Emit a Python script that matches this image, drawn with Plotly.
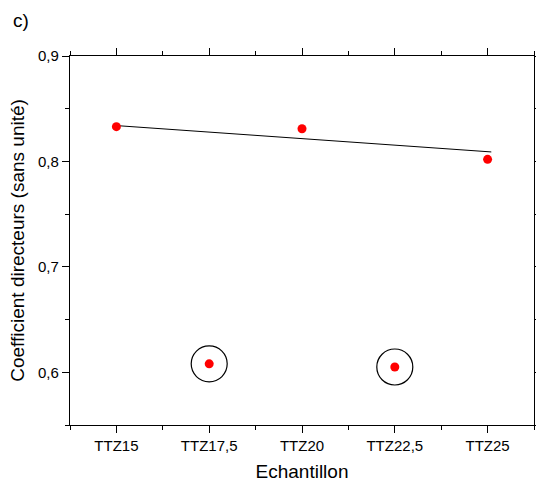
import plotly.graph_objects as go

samples = ["TTZ15", "TTZ17,5", "TTZ20", "TTZ22,5", "TTZ25"]
sample_x = [15, 17.5, 20, 22.5, 25]
coef = [0.833, 0.608, 0.831, 0.605, 0.802]
outlier_x = [17.5, 22.5]
outlier_y = [0.608, 0.605]
fit_x = [15, 25.1]
fit_y = [0.834, 0.809]

FONT = "Liberation Sans, Arial"

fig = go.Figure()
fig.add_trace(go.Scatter(x=fit_x, y=fit_y, mode="lines",
                         line=dict(color="black", width=1), showlegend=False))
fig.add_trace(go.Scatter(x=outlier_x, y=outlier_y, mode="markers",
                         marker=dict(symbol="circle-open", size=36,
                                     line=dict(color="black", width=1.2), color="black"),
                         showlegend=False))
fig.add_trace(go.Scatter(x=sample_x, y=coef, mode="markers",
                         marker=dict(color="#ff0000", size=9, line=dict(width=0)),
                         showlegend=False))

axis_common = dict(showline=True, linecolor="black", linewidth=1.4, mirror="ticks",
                   ticks="outside", tickcolor="black", ticklen=7, tickwidth=1.2,
                   showgrid=False, zeroline=False, automargin=False,
                   tickfont=dict(family=FONT, size=15, color="black"))

fig.update_xaxes(**axis_common, range=[13.75, 26.25], tickvals=sample_x, ticktext=samples,
                 minor=dict(ticks="outside", ticklen=4, tickcolor="black", tickwidth=1.2,
                            tick0=13.75, dtick=2.5, showgrid=False),
                 title=dict(text="Echantillon", font=dict(family=FONT, size=19, color="black"), standoff=11))
fig.update_yaxes(**axis_common, range=[0.55, 0.9], tickvals=[0.6, 0.7, 0.8, 0.9],
                 tickformat=".1f",
                 minor=dict(ticks="outside", ticklen=4, tickcolor="black", tickwidth=1.2,
                            tick0=0.55, dtick=0.1, showgrid=False),
                 title=dict(text="Coefficient directeurs (sans unité)", font=dict(family=FONT, size=19, color="black"), standoff=8))

fig.update_layout(width=536, height=486, plot_bgcolor="white", paper_bgcolor="white",
                  separators=", ",
                  margin=dict(l=70, r=2, t=56, b=61),
                  font=dict(family=FONT, color="black"))
fig.add_annotation(text="c)", xref="paper", yref="paper", x=-0.105, y=1.096,
                   xanchor="center", yanchor="middle", showarrow=False,
                   font=dict(family=FONT, size=19, color="black"))
fig.write_html("out.html", config={"displayModeBar": False},
               post_script="document.body.style.margin='0';document.body.style.overflow='hidden';")
